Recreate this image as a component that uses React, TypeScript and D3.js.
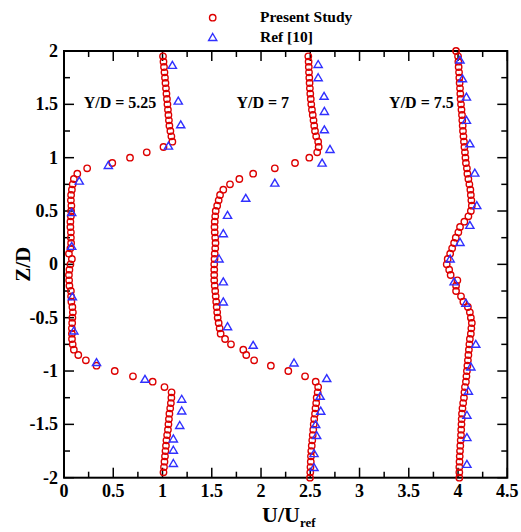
import React from "react";
import * as d3 from "d3";

// ---------- DATA ----------
const X_TICKS = [0, 0.5, 1, 1.5, 2, 2.5, 3, 3.5, 4, 4.5];
const X_TICK_LABELS = ["0", "0.5", "1", "1.5", "2", "2.5", "3", "3.5", "4", "4.5"];
const X_MINOR = [0.25, 0.75, 1.25, 1.75, 2.25, 2.75, 3.25, 3.75, 4.25];
const Y_TICKS = [-2, -1.5, -1, -0.5, 0, 0.5, 1, 1.5, 2];
const Y_TICK_LABELS = ["-2", "-1.5", "-1", "-0.5", "0", "0.5", "1", "1.5", "2"];
const Y_MINOR = [-1.75, -1.25, -0.75, -0.25, 0.25, 0.75, 1.25, 1.75];

const SERIES_NAMES = ["Present Study", "Ref [10]"];
const PROFILE_LABELS = ["Y/D = 5.25", "Y/D = 7", "Y/D = 7.5"];

// Present Study, Y/D = 5.25  [Z/D, U/Uref]
const PRESENT_525: [number, number][] = [
  [1.95, 1.005], [1.9, 1.01], [1.85, 1.015], [1.8, 1.02], [1.75, 1.025], [1.7, 1.03], [1.65, 1.035],
  [1.6, 1.04], [1.55, 1.045], [1.5, 1.05], [1.45, 1.055], [1.4, 1.06], [1.35, 1.065], [1.3, 1.07],
  [1.25, 1.08], [1.2, 1.09], [1.15, 1.1], [1.1, 1.01], [1.05, 0.84], [1.0, 0.67], [0.95, 0.49],
  [0.9, 0.235], [0.85, 0.135], [0.8, 0.1], [0.75, 0.088], [0.7, 0.08], [0.65, 0.072], [0.6, 0.07],
  [0.55, 0.075], [0.5, 0.072], [0.45, 0.07], [0.4, 0.065], [0.35, 0.065], [0.3, 0.07], [0.25, 0.07],
  [0.2, 0.072], [0.15, 0.065], [0.1, 0.05], [0.05, 0.08], [0.0, 0.065], [-0.05, 0.055], [-0.1, 0.05],
  [-0.15, 0.052], [-0.2, 0.055], [-0.25, 0.07], [-0.3, 0.072], [-0.35, 0.075], [-0.4, 0.085],
  [-0.45, 0.09], [-0.5, 0.085], [-0.55, 0.083], [-0.6, 0.08], [-0.65, 0.08], [-0.7, 0.081],
  [-0.75, 0.088], [-0.8, 0.1], [-0.85, 0.145], [-0.9, 0.222], [-0.95, 0.33], [-1.0, 0.515],
  [-1.05, 0.7], [-1.1, 0.9], [-1.15, 1.02], [-1.2, 1.092], [-1.25, 1.09], [-1.3, 1.085],
  [-1.35, 1.078], [-1.4, 1.07], [-1.45, 1.065], [-1.5, 1.06], [-1.55, 1.055], [-1.6, 1.047],
  [-1.65, 1.04], [-1.7, 1.035], [-1.75, 1.03], [-1.8, 1.025], [-1.85, 1.02], [-1.9, 1.015], [-1.95, 1.01],
];

// Present Study, Y/D = 7
const PRESENT_7: [number, number][] = [
  [1.95, 2.48], [1.9, 2.483], [1.85, 2.485], [1.8, 2.487], [1.75, 2.49], [1.7, 2.493], [1.65, 2.496],
  [1.6, 2.5], [1.55, 2.505], [1.5, 2.51], [1.45, 2.517], [1.4, 2.525], [1.35, 2.533], [1.3, 2.54],
  [1.25, 2.548], [1.2, 2.56], [1.15, 2.58], [1.1, 2.585], [1.05, 2.57], [1.0, 2.49], [0.95, 2.345],
  [0.9, 2.14], [0.85, 1.92], [0.8, 1.78], [0.75, 1.685], [0.7, 1.617], [0.65, 1.584], [0.6, 1.57],
  [0.55, 1.555], [0.5, 1.54], [0.45, 1.535], [0.4, 1.53], [0.35, 1.528], [0.3, 1.53], [0.25, 1.535],
  [0.2, 1.538], [0.15, 1.535], [0.1, 1.53], [0.05, 1.528], [0.0, 1.525], [-0.05, 1.525], [-0.1, 1.525],
  [-0.15, 1.525], [-0.2, 1.53], [-0.25, 1.535], [-0.3, 1.54], [-0.35, 1.545], [-0.4, 1.55],
  [-0.45, 1.555], [-0.5, 1.56], [-0.55, 1.57], [-0.6, 1.58], [-0.65, 1.59], [-0.7, 1.635],
  [-0.75, 1.695], [-0.8, 1.82], [-0.85, 1.85], [-0.9, 1.93], [-0.95, 2.1], [-1.0, 2.277],
  [-1.05, 2.447], [-1.1, 2.555], [-1.15, 2.58], [-1.2, 2.575], [-1.25, 2.565], [-1.3, 2.56],
  [-1.35, 2.553], [-1.4, 2.548], [-1.45, 2.54], [-1.5, 2.535], [-1.55, 2.53], [-1.6, 2.525],
  [-1.65, 2.52], [-1.7, 2.515], [-1.75, 2.51], [-1.8, 2.507], [-1.85, 2.505], [-1.9, 2.502],
  [-1.95, 2.5], [-2.0, 2.497],
];

// Present Study, Y/D = 7.5
const PRESENT_75: [number, number][] = [
  [2.0, 3.98], [1.95, 4.0], [1.9, 4.003], [1.85, 4.006], [1.8, 4.01], [1.75, 4.013], [1.7, 4.016],
  [1.65, 4.02], [1.6, 4.023], [1.55, 4.026], [1.5, 4.03], [1.45, 4.035], [1.4, 4.04], [1.35, 4.043],
  [1.3, 4.047], [1.25, 4.05], [1.2, 4.055], [1.15, 4.06], [1.1, 4.065], [1.05, 4.07], [1.0, 4.075],
  [0.95, 4.08], [0.9, 4.09], [0.85, 4.095], [0.8, 4.105], [0.75, 4.115], [0.7, 4.125], [0.65, 4.13],
  [0.6, 4.135], [0.55, 4.14], [0.5, 4.13], [0.45, 4.105], [0.4, 4.064], [0.35, 4.02], [0.3, 4.003],
  [0.25, 3.977], [0.2, 3.96], [0.15, 3.94], [0.1, 3.92], [0.05, 3.895], [0.0, 3.885], [-0.05, 3.91],
  [-0.1, 3.925], [-0.15, 3.993], [-0.2, 3.98], [-0.25, 3.98], [-0.3, 4.03], [-0.35, 4.054],
  [-0.4, 4.1], [-0.45, 4.12], [-0.5, 4.13], [-0.55, 4.14], [-0.6, 4.135], [-0.65, 4.13],
  [-0.7, 4.12], [-0.75, 4.115], [-0.8, 4.11], [-0.85, 4.105], [-0.9, 4.1], [-0.95, 4.095],
  [-1.0, 4.09], [-1.05, 4.085], [-1.1, 4.08], [-1.15, 4.07], [-1.2, 4.065], [-1.25, 4.06],
  [-1.3, 4.052], [-1.35, 4.045], [-1.4, 4.04], [-1.45, 4.037], [-1.5, 4.035], [-1.55, 4.032],
  [-1.6, 4.03], [-1.65, 4.027], [-1.7, 4.023], [-1.75, 4.02], [-1.8, 4.017], [-1.85, 4.015],
  [-1.9, 4.013], [-1.95, 4.013], [-2.0, 4.013],
];

// Ref [10]
const REF_525: [number, number][] = [
  [1.87, 1.1], [1.535, 1.16], [1.313, 1.185], [1.113, 1.06], [0.932, 0.45], [0.785, 0.155],
  [0.49, 0.078], [0.173, 0.078], [-0.3, 0.085], [-0.62, 0.1], [-0.916, 0.33], [-1.073, 0.822],
  [-1.26, 1.195], [-1.37, 1.195], [-1.506, 1.175], [-1.632, 1.11], [-1.738, 1.11], [-1.862, 1.11],
];
const REF_7: [number, number][] = [
  [1.878, 2.58], [1.754, 2.58], [1.58, 2.64], [1.438, 2.643], [1.266, 2.643], [1.082, 2.7],
  [0.954, 2.62], [0.766, 2.14], [0.624, 1.845], [0.464, 1.66], [0.292, 1.617], [0.055, 1.574],
  [-0.16, 1.617], [-0.348, 1.617], [-0.58, 1.66], [-0.754, 1.92], [-0.92, 2.335], [-1.066, 2.667],
  [-1.232, 2.6], [-1.372, 2.606], [-1.497, 2.555], [-1.6, 2.565], [-1.77, 2.538], [-1.9, 2.538],
];
const REF_75: [number, number][] = [
  [1.92, 4.02], [1.744, 4.045], [1.572, 4.085], [1.354, 4.085], [1.135, 4.12], [0.86, 4.17],
  [0.555, 4.19], [0.37, 4.12], [0.21, 4.02], [0.055, 3.92], [-0.16, 3.96], [-0.36, 4.08],
  [-0.745, 4.18], [-0.957, 4.13], [-1.185, 4.105], [-1.41, 4.09], [-1.62, 4.09], [-1.87, 4.09],
];

// ---------- LAYOUT ----------
const W = 521;
const H = 532;
const M = { left: 64, right: 507.3, top: 51, bottom: 477.7 };
const RED = "#dd0000";
const BLUE = "#3030ff";
const FONT = "'Liberation Serif', 'Times New Roman', serif";

const x = d3.scaleLinear().domain([0, 4.5]).range([M.left, M.right]);
const y = d3.scaleLinear().domain([-2, 2]).range([M.bottom, M.top]);

const triPath = (cx: number, cy: number) => {
  const w = 8.2;
  const h = 7;
  return `M${cx},${cy - h / 2}L${cx + w / 2},${cy + h / 2}L${cx - w / 2},${cy + h / 2}Z`;
};

export default function App() {
  const present = [PRESENT_525, PRESENT_7, PRESENT_75];
  const refs = [REF_525, REF_7, REF_75];
  const majorLen = 10;
  const minorLen = 6;
  const labelX = [0.2, 1.75, 3.3];

  return (
    <svg
      width={W}
      height={H}
      style={{ position: "absolute", left: 0, top: 0, background: "#fff" }}
      fontFamily={FONT}
    >
      <rect x={0} y={0} width={W} height={H} fill="#fff" />
      {/* ticks */}
      <g stroke="#000" strokeWidth={1.5}>
        {X_TICKS.map((t, i) => (
          <g key={"xt" + i}>
            <line x1={x(t)} x2={x(t)} y1={M.bottom} y2={M.bottom - majorLen} />
            <line x1={x(t)} x2={x(t)} y1={M.top} y2={M.top + majorLen} />
          </g>
        ))}
        {X_MINOR.map((t, i) => (
          <g key={"xm" + i}>
            <line x1={x(t)} x2={x(t)} y1={M.bottom} y2={M.bottom - minorLen} />
            <line x1={x(t)} x2={x(t)} y1={M.top} y2={M.top + minorLen} />
          </g>
        ))}
        {Y_TICKS.map((t, i) => (
          <g key={"yt" + i}>
            <line x1={M.left} x2={M.left + majorLen} y1={y(t)} y2={y(t)} />
            <line x1={M.right} x2={M.right - majorLen} y1={y(t)} y2={y(t)} />
          </g>
        ))}
        {Y_MINOR.map((t, i) => (
          <g key={"ym" + i}>
            <line x1={M.left} x2={M.left + minorLen} y1={y(t)} y2={y(t)} />
            <line x1={M.right} x2={M.right - minorLen} y1={y(t)} y2={y(t)} />
          </g>
        ))}
      </g>
      <rect
        x={M.left}
        y={M.top}
        width={M.right - M.left}
        height={M.bottom - M.top}
        fill="none"
        stroke="#000"
        strokeWidth={2}
      />
      {/* tick labels */}
      <g fontWeight="bold" fontSize={18} fill="#000">
        {X_TICKS.map((t, i) => (
          <text key={"xl" + i} x={x(t)} y={M.bottom + 19} textAnchor="middle">
            {X_TICK_LABELS[i]}
          </text>
        ))}
        {Y_TICKS.map((t, i) => (
          <text key={"yl" + i} x={M.left - 6} y={y(t) + 6} textAnchor="end">
            {Y_TICK_LABELS[i]}
          </text>
        ))}
      </g>
      {/* axis titles */}
      <text
        transform={`translate(30,${y(0)}) rotate(-90)`}
        textAnchor="middle"
        fontWeight="bold"
        fontSize={21}
      >
        Z/D
      </text>
      <text x={262} y={522} fontWeight="bold" fontSize={22}>
        U/U
        <tspan fontSize={13} dy={5}>
          ref
        </tspan>
      </text>
      {/* profile labels */}
      <g fontWeight="bold" fontSize={16}>
        {PROFILE_LABELS.map((l, i) => (
          <text key={"pl" + i} x={x(labelX[i])} y={y(1.5) + 4}>
            {l}
          </text>
        ))}
      </g>
      {/* data */}
      <g fill="none" stroke={RED} strokeWidth={1.4}>
        {present.map((s, si) =>
          s.map((d, i) => <circle key={si + "-" + i} cx={x(d[1])} cy={y(d[0])} r={3.2} />)
        )}
      </g>
      <g fill="none" stroke={BLUE} strokeWidth={1.4}>
        {refs.map((s, si) =>
          s.map((d, i) => <path key={si + "-" + i} d={triPath(x(d[1]), y(d[0]))} />)
        )}
      </g>
      {/* legend */}
      <circle cx={212.7} cy={17.7} r={3.2} fill="none" stroke={RED} strokeWidth={1.4} />
      <path d={triPath(212.7, 37)} fill="none" stroke={BLUE} strokeWidth={1.4} />
      <g fontWeight="bold" fontSize={15.5}>
        <text x={260} y={22}>{SERIES_NAMES[0]}</text>
        <text x={260} y={42}>{SERIES_NAMES[1]}</text>
      </g>
    </svg>
  );
}
